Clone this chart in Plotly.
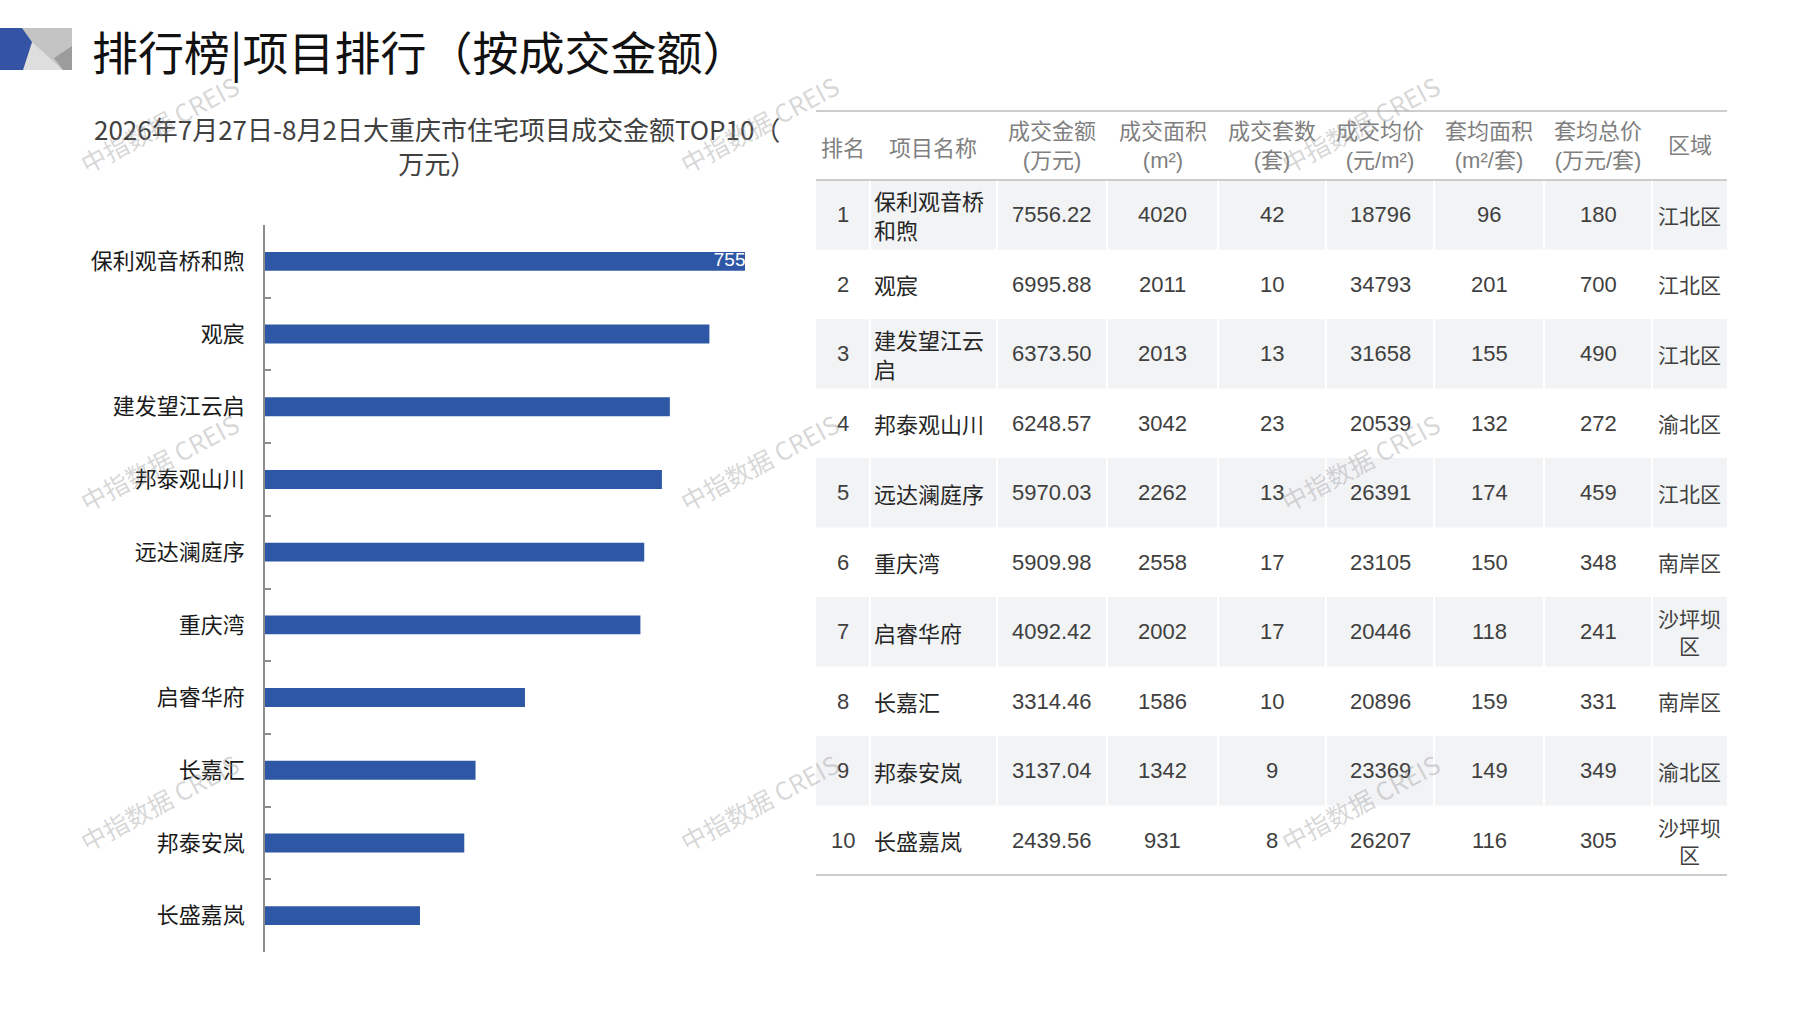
import plotly.graph_objects as go

W, H = 1797, 1010

# ---- data ----
names = ["保利观音桥和煦", "观宸", "建发望江云启", "邦泰观山川", "远达澜庭序",
         "重庆湾", "启睿华府", "长嘉汇", "邦泰安岚", "长盛嘉岚"]
amount = [7556.22, 6995.88, 6373.50, 6248.57, 5970.03, 5909.98, 4092.42, 3314.46, 3137.04, 2439.56]
area = [4020, 2011, 2013, 3042, 2262, 2558, 2002, 1586, 1342, 931]
units = [42, 10, 13, 23, 13, 17, 17, 10, 9, 8]
avg_price = [18796, 34793, 31658, 20539, 26391, 23105, 20446, 20896, 23369, 26207]
avg_area = [96, 201, 155, 132, 174, 150, 118, 159, 149, 116]
avg_total = [180, 700, 490, 272, 459, 348, 241, 331, 349, 305]
district = ["江北区", "江北区", "江北区", "渝北区", "江北区", "南岸区", "沙坪坝区", "南岸区", "渝北区", "沙坪坝区"]

headers = ["排名", "项目名称", "成交金额<br>(万元)", "成交面积<br>(m²)", "成交套数<br>(套)",
           "成交均价<br>(元/m²)", "套均面积<br>(m²/套)", "套均总价<br>(万元/套)", "区域"]

page_title = "排行榜|项目排行（按成交金额）"
chart_title = "2026年7月27日-8月2日大重庆市住宅项目成交金额TOP10（<br>万元）"
watermark = "中指数据 CREIS"

BLUE = "#2E58A6"
CJK = "Noto Sans CJK SC"
NUM = "Liberation Sans Narrow, Liberation Sans, " + CJK


def px(x):
    return x / W


def py(y):
    return 1 - y / H


def wrap(s, n):
    return "<br>".join(s[i:i + n] for i in range(0, len(s), n))


def path(points):
    d = "M " + " L ".join(f"{px(x):.5f},{py(y):.5f}" for x, y in points)
    return d + " Z"


fig = go.Figure()

# bar chart
fig.add_trace(go.Bar(
    y=names, x=amount, orientation="h", width=0.26,
    marker=dict(color=BLUE, line=dict(width=0)),
    hovertemplate="%{y}: %{x}<extra></extra>",
))
# data label on first bar (clipped by the plot area like the original)
fig.add_trace(go.Scatter(
    y=[names[0]], x=[amount[0] * 0.935], mode="text",
    text=[f"{amount[0]:.2f}"], textposition="middle right",
    textfont=dict(color="white", size=19, family="Liberation Sans"),
    cliponaxis=True, hoverinfo="skip",
))

shapes = []
annotations = []

# ---- header logo ----
shapes.append(dict(type="path", xref="paper", yref="paper", line=dict(width=0), fillcolor="#C4C4C4",
                   path=path([(22, 28), (72, 28), (72, 70), (22, 70)])))
shapes.append(dict(type="path", xref="paper", yref="paper", line=dict(width=0), fillcolor="#DEDEDE",
                   path=path([(32, 42), (63, 70), (23, 70)])))
shapes.append(dict(type="path", xref="paper", yref="paper", line=dict(width=0), fillcolor="#9C9C9C",
                   path=path([(72, 46), (54, 58), (63, 70), (72, 70)])))
shapes.append(dict(type="path", xref="paper", yref="paper", line=dict(width=0), fillcolor="#3553A5",
                   path=path([(0, 28), (22, 28), (32, 42), (23, 70), (0, 70)])))

annotations.append(dict(x=px(90), y=py(50), xref="paper", yref="paper", text=page_title,
                        showarrow=False, xanchor="left", yanchor="middle",
                        font=dict(family=CJK, size=46, color="#111111")))
annotations.append(dict(x=px(437), y=py(145), xref="paper", yref="paper", text=chart_title,
                        showarrow=False, xanchor="center", yanchor="middle", align="center",
                        font=dict(family=CJK, size=26, color="#404040")))

# ---- table ----
cols = [816, 870, 997, 1107, 1218, 1326, 1434, 1544, 1652, 1727]
top, head_bottom, row_h = 111, 180, 69.5
bottom = head_bottom + row_h * len(names)

for i in range(len(names)):
    if i % 2 == 0:
        shapes.append(dict(type="rect", xref="paper", yref="paper", line=dict(width=0),
                           fillcolor="#F2F3F5", layer="below",
                           x0=px(cols[0]), x1=px(cols[-1]),
                           y0=py(head_bottom + i * row_h), y1=py(head_bottom + (i + 1) * row_h)))
for b in cols[1:-1]:
    shapes.append(dict(type="line", xref="paper", yref="paper", line=dict(color="white", width=2),
                       layer="below", x0=px(b), x1=px(b), y0=py(head_bottom), y1=py(bottom)))
for yy in [top, head_bottom, bottom]:
    shapes.append(dict(type="line", xref="paper", yref="paper", line=dict(color="#CDCDCD", width=2),
                       x0=px(cols[0]), x1=px(cols[-1]), y0=py(yy), y1=py(yy)))

centers = [(cols[j] + cols[j + 1]) / 2 for j in range(len(cols) - 1)]
for j, h in enumerate(headers):
    annotations.append(dict(x=px(centers[j]), y=py((top + head_bottom) / 2), xref="paper", yref="paper",
                            text=h, showarrow=False, xanchor="center", yanchor="middle", align="center",
                            font=dict(family=NUM if j > 1 else CJK, size=22, color="#7F7F7F")))

for i in range(len(names)):
    yc = py(head_bottom + (i + 0.5) * row_h)
    row = [str(i + 1), wrap(names[i], 5), f"{amount[i]:.2f}", str(area[i]), str(units[i]),
           str(avg_price[i]), str(avg_area[i]), str(avg_total[i]), wrap(district[i], 3)]
    for j, val in enumerate(row):
        is_text = j in (1, 8)
        annotations.append(dict(
            x=px(cols[1] + 2) if j == 1 else px(centers[j]), y=yc, xref="paper", yref="paper",
            text=val, showarrow=False, yanchor="middle",
            xanchor="left" if j == 1 else "center", align="left" if j == 1 else "center",
            font=dict(family=CJK if is_text else NUM, size=(22 if j == 1 else 21) if is_text else 22,
                      color="#262626" if j == 1 else "#404040")))

# ---- watermarks ----
for wy in [124, 462, 802]:
    for wx in [159, 759, 1360]:
        annotations.append(dict(x=px(wx), y=py(wy), xref="paper", yref="paper", text=watermark,
                                showarrow=False, textangle=-28, xanchor="center", yanchor="middle",
                                font=dict(family=CJK, size=25, color="rgba(150,150,150,0.38)")))

fig.update_layout(
    width=W, height=H,
    margin=dict(l=0, r=0, t=0, b=0),
    paper_bgcolor="white", plot_bgcolor="white",
    showlegend=False,
    shapes=shapes, annotations=annotations,
    xaxis=dict(domain=[px(265), px(745)], range=[0, max(amount)], visible=False, fixedrange=True),
    yaxis=dict(domain=[py(952), py(225)], type="category", categoryorder="array", categoryarray=names,
               autorange="reversed", showline=True, linecolor="#8C8C8C", linewidth=1.5,
               ticks="inside", tickson="boundaries", ticklen=6, tickcolor="#8C8C8C", tickwidth=1.5,
               ticklabelstandoff=14, showgrid=False, zeroline=False, fixedrange=True,
               tickfont=dict(family=CJK, size=22, color="#1A1A1A")),
)

# drop the browser's default body margin so the figure sits at the page corner
fig.write_html("out.html", config={"displayModeBar": False},
               post_script="document.body.style.margin='0';document.body.style.overflow='hidden';")
